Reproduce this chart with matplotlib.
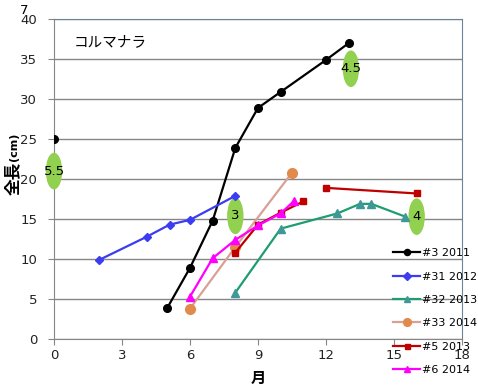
import numpy as np
import matplotlib
matplotlib.use('Agg')
import matplotlib.pyplot as plt
from matplotlib.patches import Ellipse

plt.rcParams['font.family'] = ['DejaVu Sans', 'Noto Sans CJK JP']

# months / length (cm); NaN breaks a line
m3 = [0, np.nan, 5, 6, 7, 8, 9, 10, 12, 13]
l3 = [25, np.nan, 3.9, 8.9, 14.8, 23.9, 28.9, 30.9, 34.9, 37]
m31 = [2, 4.1, 5.1, 6, 8]
l31 = [9.9, 12.8, 14.3, 14.9, 17.9]
m32 = [8, 10, 12.5, 13.5, 14, 15.5]
l32 = [5.8, 13.8, 15.7, 16.9, 16.9, 15.3]
m33 = [6, 8, 10.5]
l33 = [3.8, 11.5, 20.8]
m5 = [8, 9, 10, 11, np.nan, 12, 16]
l5 = [10.8, 14.3, 15.8, 17.2, np.nan, 18.9, 18.2]
m6 = [6, 7, 8, 9, 10, 10.6]
l6 = [5.3, 10.1, 12.4, 14.2, 15.7, 17.3]

# green ellipse notes
note_x = [0, 13.1, 8, 16]
note_y = [21, 33.8, 15.4, 15.3]
note_txt = ['5.5', '4.5', '3', '4']

fig = plt.figure(figsize=(4.78, 3.91), dpi=100)
ax = fig.add_axes([0.113, 0.133, 0.8535, 0.818])

for x, y, t in zip(note_x, note_y, note_txt):
    ax.add_patch(Ellipse((x, y), 0.66, 4.4, color='#92d050', zorder=4, clip_on=False))
    ax.text(x, y, t, ha='center', va='center', fontsize=9.5, zorder=6)

ax.plot(m3, l3, '-o', color='black', lw=1.6, ms=5.5, label='#3 2011', zorder=5)
ax.plot(m31, l31, '-D', color='#3c3cf0', mfc='#3c3cf0', mec='#3c3cf0', lw=1.6, ms=4.5, label='#31 2012', zorder=5)
ax.plot(m32, l32, '-^', color='#1e9e6e', mfc='#3f9898', mec='#3f9898', lw=1.6, ms=6, label='#32 2013', zorder=5)
ax.plot(m33, l33, '-o', color='#d9a096', mfc='#e28a4c', mec='#e28a4c', lw=1.6, ms=7, label='#33 2014', zorder=5)
ax.plot(m5, l5, '-s', color='#c00000', lw=1.6, ms=4.5, label='#5 2013', zorder=5)
ax.plot(m6, l6, '-^', color='#ff00ff', lw=1.6, ms=6, label='#6 2014', zorder=5)

ax.set_xlim(0, 18)
ax.set_ylim(0, 40)
ax.set_xticks(np.arange(0, 19, 3))
ax.set_yticks(np.arange(0, 41, 5))
ax.yaxis.grid(True, color='#868686', lw=1)
ax.set_axisbelow(True)
ax.tick_params(labelsize=9.5, length=4, color='#868686', colors='#222222')
ax.tick_params(axis='y', pad=8)
ax.tick_params(axis='x', pad=3)
for s in ['left', 'bottom']:
    ax.spines[s].set_color('#868686')
for s in ['top', 'right']:
    ax.spines[s].set_color('#6a8398')

ax.text(0.85, 36.6, 'コルマナラ', fontsize=10.5, family=['Noto Sans CJK JP'])
ax.set_xlabel('月', fontsize=11, fontweight='bold', family=['Noto Sans CJK JP'], labelpad=6)
fig.text(0.027, 0.545, '全長', rotation=90, fontsize=12, fontweight='bold',
         family=['Noto Sans CJK JP'], ha='center', va='center')
fig.text(0.030, 0.625, '(cm)', rotation=90, fontsize=8, fontweight='bold',
         ha='center', va='center')
fig.text(0.05, 0.974, '7', fontsize=9.5, ha='center', va='center')

fig.legend(loc='upper left', bbox_to_anchor=(0.822, 0.365), frameon=False,
           fontsize=8, handlelength=2.45, handletextpad=0.2, labelspacing=1.2,
           markerscale=0.8, borderpad=0, borderaxespad=0)

fig.savefig('out.png', dpi=100)
